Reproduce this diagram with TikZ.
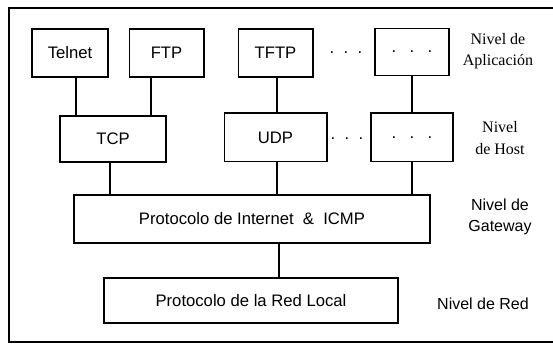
\documentclass[tikz,border=0pt]{standalone}
\usepackage{fontspec}
\setmainfont{Liberation Sans}
\newfontfamily\levelserif{Liberation Serif}
\usepackage{tikz}
\usetikzlibrary{positioning}
\tikzset{
    protobox/.style={draw, line width=1pt, inner sep=0pt, font=\fontsize{12.5}{15}\selectfont},
    levellabel/.style={align=center, inner sep=0pt, font=\fontsize{12}{16}\selectfont},
    link/.style={line width=0.9pt}
}

\begin{document}
\begin{tikzpicture}[x=0.75pt, y=-0.75pt]
        \useasboundingbox (0,0) rectangle (553,345);
        % frame
        \draw[line width=0.9pt] (553,8) -- (9,8) -- (9,342) -- (553,342);
        % application level
        \node[protobox, minimum width=57pt, minimum height=36pt] (telnet) at (70,53) {Telnet};
        \node[protobox, minimum width=56pt, minimum height=36pt] (ftp) at (166.5,53) {FTP};
        \node[protobox, minimum width=56pt, minimum height=36pt] (tftp) at (275.5,53) {TFTP};
        \node[protobox, minimum width=55.5pt, minimum height=35pt] (appdots) at (412,52) {.\hspace{10pt}.\hspace{10pt}.};
        \node[font=\fontsize{12.5}{15}\selectfont] (appgap) at (346,53) {.\hspace{7pt}.\hspace{7pt}.};
        % host level
        \node[protobox, minimum width=79.5pt, minimum height=34.5pt] (tcp) at (113,139) {TCP};
        \node[protobox, minimum width=77pt, minimum height=36.5pt] (udp) at (275.5,137.5) {UDP};
        \node[protobox, minimum width=61.5pt, minimum height=36.5pt] (hostdots) at (412,137.5) {.\hspace{10pt}.\hspace{10pt}.};
        \node[font=\fontsize{12.5}{15}\selectfont] (hostgap) at (347,139) {.\hspace{7pt}.\hspace{7pt}.};
        % gateway and network level
        \node[protobox, minimum width=267pt, minimum height=36pt] (inet) at (252,219) {Protocolo de Internet \ \& \ ICMP};
        \node[protobox, minimum width=220.5pt, minimum height=33.75pt] (red) at (251,300.5) {Protocolo de la Red Local};
        % level names
        \node[levellabel] (lvlapp) at (498,51) {\levelserif Nivel de\\\levelserif Aplicación};
        \node[levellabel] (lvlhost) at (500,138) {\levelserif Nivel\\\levelserif de Host};
        \node[levellabel] (lvlgw) at (500,217) {Nivel de\\Gateway};
        \node[levellabel] (lvlred) at (483,304) {Nivel de Red};
        % connections
        \draw[link] (telnet.south) ++(6,0) coordinate (t1) -- (t1 |- tcp.north);
        \draw[link] (ftp.south) ++(-15.5,0) coordinate (f1) -- (f1 |- tcp.north);
        \draw[link] (tftp.south) ++(1.5,0) coordinate (u1) -- (u1 |- udp.north);
        \draw[link] (appdots.south) -- (hostdots.north);
        \draw[link] (tcp.south) ++(-3,0) coordinate (i1) -- (i1 |- inet.north);
        \draw[link] (udp.south) ++(1.5,0) coordinate (i2) -- (i2 |- inet.north);
        \draw[link] (hostdots.south) -- (hostdots.south |- inet.north);
        \draw[link] (inet.south) ++(27,0) coordinate (r1) -- (r1 |- red.north);
    \end{tikzpicture}
\end{document}
